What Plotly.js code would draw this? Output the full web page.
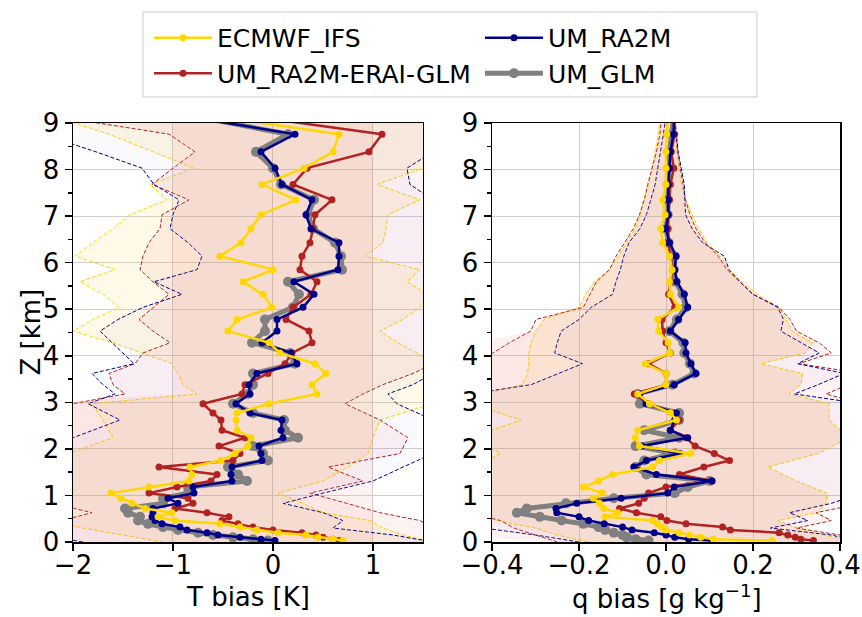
<!DOCTYPE html>
<html><head><meta charset="utf-8">
<script src="https://cdn.plot.ly/plotly-3.0.1.min.js"></script>
<style>html,body{margin:0;padding:0;background:#fff}#chart{width:862px;height:617px}</style>
</head><body><div id="chart"></div>
<script>
// Model levels (km)
const Z = [0.03,0.06,0.10,0.15,0.20,0.26,0.32,0.39,0.46,0.54,0.63,0.72,0.83,0.94,1.05,1.18,1.31,1.45,1.61,1.75,1.90,2.06,2.24,2.40,2.62,2.77,2.97,3.18,3.38,3.62,3.83,4.06,4.28,4.53,4.78,5.04,5.32,5.59,5.85,6.14,6.43,6.73,7.03,7.35,7.68,8.03,8.38,8.76,9.15];

// Temperature bias (K)
const T_ECMWF = [0.70,0.60,0.45,0.33,0.05,-0.16,-0.33,-0.53,-0.98,-1.15,-1.01,-1.28,-1.41,-1.52,-1.62,-1.24,-0.84,-0.81,-0.83,-0.52,-0.38,-0.25,-0.22,-0.36,-0.37,-0.36,-0.04,0.44,0.39,0.53,0.42,0.07,-0.04,-0.45,-0.36,-0.01,-0.10,-0.30,0.00,-0.53,-0.32,-0.22,-0.12,0.23,-0.11,0.31,0.60,0.66,-0.59];
const T_ERAI = [0.66,0.60,0.50,0.43,0.29,0.00,-0.20,-0.35,-0.51,-0.44,-0.66,-0.98,-0.80,-0.85,-1.24,-0.96,-0.62,-0.56,-1.14,-0.40,-0.33,-0.54,-0.28,-0.51,-0.52,-0.60,-0.70,-0.31,-0.28,-0.05,0.12,0.19,0.39,0.36,0.13,0.20,0.38,0.44,0.27,0.29,0.37,0.40,0.42,0.59,0.20,0.34,0.96,1.09,-0.24];
const T_RA2M = [0.02,-0.12,-0.33,-0.55,-0.66,-0.86,-0.93,-1.11,-1.18,-1.21,-1.20,-1.20,-0.95,-1.05,-0.79,-0.80,-0.41,-0.42,-0.41,-0.11,-0.12,-0.14,0.10,0.08,0.09,-0.23,-0.37,-0.23,-0.24,-0.16,0.24,0.18,-0.11,0.04,0.04,0.30,0.41,0.21,0.65,0.66,0.66,0.38,0.33,0.39,0.09,0.02,-0.12,0.22,-0.88];
const T_GLM = [-0.05,-0.2,-0.4,-0.6,-0.75,-0.95,-1.1,-1.25,-1.35,-1.33,-1.45,-1.48,-1.1,-1.1,-0.85,-0.85,-0.26,-0.35,-0.45,-0.05,-0.1,-0.2,0.25,0.12,0.11,-0.2,-0.4,-0.25,-0.2,-0.2,0.22,0.17,-0.21,-0.08,-0.08,0.2,0.26,0.15,0.69,0.68,0.62,0.4,0.35,0.41,0.08,0.0,-0.17,0.15,-0.8];

// Specific humidity bias (g/kg)
const Q_ECMWF = [0.244,0.109,0.08,0.054,0.03,0.0,-0.01,-0.02,-0.031,-0.14,-0.111,-0.143,-0.153,-0.167,-0.146,-0.19,-0.155,-0.123,-0.031,-0.015,0.057,-0.061,-0.071,-0.065,0.024,0.01,-0.038,-0.065,0.0,0.0,-0.048,0.009,0.005,-0.017,-0.019,0.029,0.01,0.008,0.014,0.008,-0.008,-0.012,-0.002,-0.008,0.0,0.0,0.0,0.002,0.005];
const Q_ERAI = [0.339,0.31,0.297,0.28,0.26,0.148,0.13,0.046,0.002,-0.012,-0.068,-0.107,-0.063,-0.05,-0.04,0.0,0.105,0.031,0.087,0.146,0.111,0.067,0.046,0.01,0.03,0.02,-0.04,-0.073,0.0,0.0,-0.04,0.01,0.0,-0.008,-0.009,0.02,0.006,0.01,0.015,0.01,0.005,0.005,0.005,0.008,0.01,0.018,0.012,0.02,0.015];
const Q_RA2M = [0.107,0.052,0.02,0.0,-0.027,-0.078,-0.10,-0.142,-0.178,-0.2,-0.251,-0.253,-0.205,-0.103,0.004,0.019,0.106,-0.022,-0.074,-0.045,0.032,-0.056,0.05,0.01,0.02,0.024,-0.046,-0.061,0.019,0.069,0.057,0.046,0.044,0.01,0.029,0.05,0.042,0.025,0.02,0.023,0.008,0.0,0.005,0.005,0.005,0.008,0.01,0.017,0.02];
const Q_GLM = [-0.04,-0.07,-0.09,-0.1,-0.12,-0.14,-0.155,-0.19,-0.24,-0.29,-0.343,-0.32,-0.23,-0.12,0.02,0.05,0.1,-0.045,-0.07,-0.05,0.02,-0.07,0.03,-0.05,0.03,0.03,-0.06,-0.065,0.015,0.065,0.055,0.042,0.04,0.008,0.025,0.045,0.038,0.022,0.018,0.02,0.006,0.0,0.004,0.004,0.004,0.006,0.008,0.014,0.018];

// Envelope levels (km)
const ZE = [0,0.15,0.3,0.46,0.63,0.83,1.05,1.31,1.61,1.90,2.24,2.62,2.97,3.18,3.38,3.62,3.83,4.06,4.28,4.53,4.78,5.04,5.32,5.59,5.85,6.14,6.43,6.73,7.03,7.35,7.68,8.03,8.38,8.76,9.15];

// T envelopes
const TE_ECMWF_LO = [-1.1,-1.5,-1.9,-2.2,-2.4,-2.4,-2.4,-2.4,-2.3,-2.05,-1.6,-1.7,-1.81,-0.76,-0.9,-0.95,-1.01,-1.31,-1.6,-2.0,-1.8,-1.54,-1.7,-1.93,-1.58,-1.98,-1.8,-1.6,-1.43,-1.06,-1.23,-0.79,-1.2,-1.64,-2.2];
const TE_ECMWF_HI = [1.6,1.3,1.1,0.97,0.5,0.3,0.05,0.5,0.75,0.95,1.0,1.07,1.6,1.6,1.6,1.6,1.6,1.44,1.25,1.07,1.3,1.47,1.55,1.34,1.47,0.92,1.1,1.13,1.15,1.47,1.04,1.5,1.6,1.6,1.6];
const TE_ERAI_LO = [-2.5,-2.5,-2.4,-2.1,-1.81,-2.2,-2.4,-2.4,-2.4,-2.4,-2.2,-2.2,-2.0,-1.48,-1.6,-1.64,-1.38,-1.3,-1.03,-1.2,-1.34,-1.2,-1.04,-1.2,-1.33,-1.3,-1.24,-1.13,-1.11,-0.84,-1.21,-1.0,-0.78,-1.04,-2.2];
const TE_ERAI_HI = [1.6,1.6,1.6,1.47,1.07,0.74,0.37,0.9,0.55,1.27,1.35,1.07,0.72,0.9,1.1,1.4,1.6,1.6,1.6,1.6,1.6,1.6,1.6,1.6,1.6,1.6,1.6,1.6,1.6,1.6,1.6,1.6,1.6,1.6,1.6];
const TE_RA2M_LO = [-1.9,-2.3,-2.4,-2.4,-2.4,-2.4,-2.4,-2.4,-2.4,-2.4,-2.0,-1.53,-1.85,-1.58,-1.7,-1.81,-1.39,-1.5,-1.6,-1.73,-1.55,-1.3,-0.91,-1.19,-0.76,-0.71,-0.85,-1.03,-1.0,-0.94,-1.19,-1.31,-1.77,-2.3,-2.4];
const TE_RA2M_HI = [1.6,1.2,0.6,0.7,0.5,0.1,0.5,1.0,1.3,1.6,1.6,1.6,1.24,1.15,1.4,1.6,1.6,1.6,1.6,1.6,1.6,1.6,1.6,1.6,1.6,1.6,1.6,1.6,1.6,1.6,1.37,1.34,1.6,1.6,1.6];
const TE_GLM_LO = [-2.5,-2.5,-2.5,-2.5,-2.5,-2.5,-2.5,-2.5,-2.5,-2.5,-2.5,-2.5,-2.5,-1.0,-1.0,-1.0,-1.0,-1.0,-1.0,-1.0,-1.0,-1.0,-1.0,-1.0,-1.0,-1.0,-1.0,-1.0,-1.0,-1.0,-1.0,-1.0,-1.0,-1.0,-1.0];
const TE_GLM_HI = [1.0,1.0,1.0,1.0,1.0,1.0,1.0,1.0,1.0,1.0,1.0,1.0,1.0,1.0,1.0,1.0,1.0,1.0,1.0,1.0,1.0,1.0,1.0,1.0,1.0,1.0,1.0,1.0,1.0,1.0,1.0,1.0,1.0,1.0,1.0];

// q envelopes
const QE_ECMWF_LO = [-0.18,-0.25,-0.3,-0.39,-0.45,-0.5,-0.5,-0.5,-0.45,-0.38,-0.45,-0.333,-0.45,-0.42,-0.33,-0.318,-0.316,-0.315,-0.31,-0.3,-0.28,-0.2,-0.185,-0.165,-0.13,-0.11,-0.09,-0.07,-0.06,-0.05,-0.04,-0.032,-0.025,-0.018,-0.012];
const QE_ECMWF_HI = [0.43,0.37,0.3,0.257,0.35,0.368,0.37,0.3,0.234,0.35,0.42,0.375,0.375,0.283,0.31,0.314,0.218,0.32,0.337,0.29,0.276,0.26,0.21,0.175,0.145,0.125,0.095,0.075,0.06,0.045,0.035,0.03,0.025,0.02,0.016];
const QE_ERAI_LO = [-0.25,-0.3,-0.35,-0.38,-0.45,-0.45,-0.45,-0.45,-0.45,-0.45,-0.45,-0.45,-0.45,-0.45,-0.45,-0.45,-0.45,-0.398,-0.36,-0.311,-0.299,-0.19,-0.175,-0.16,-0.13,-0.115,-0.095,-0.075,-0.061,-0.05,-0.042,-0.032,-0.022,-0.014,-0.01];
const QE_ERAI_HI = [0.45,0.4,0.3,0.38,0.345,0.45,0.45,0.45,0.45,0.45,0.45,0.45,0.45,0.368,0.42,0.45,0.306,0.38,0.352,0.30,0.285,0.26,0.2,0.17,0.14,0.12,0.09,0.069,0.055,0.045,0.04,0.033,0.027,0.022,0.018];
const QE_RA2M_LO = [-0.2,-0.3,-0.42,-0.45,-0.45,-0.45,-0.45,-0.45,-0.45,-0.45,-0.45,-0.45,-0.45,-0.45,-0.31,-0.249,-0.192,-0.256,-0.25,-0.241,-0.2,-0.172,-0.123,-0.115,-0.105,-0.097,-0.085,-0.06,-0.045,-0.035,-0.025,-0.019,-0.012,-0.006,0.0];
const QE_RA2M_HI = [0.45,0.38,0.24,0.326,0.284,0.38,0.45,0.45,0.45,0.45,0.45,0.45,0.45,0.295,0.35,0.41,0.303,0.352,0.31,0.264,0.27,0.257,0.2,0.17,0.145,0.134,0.084,0.06,0.045,0.043,0.042,0.035,0.028,0.024,0.02];
const QE_GLM_LO = [-0.3,-0.45,-0.45,-0.45,-0.45,-0.45,-0.45,-0.45,-0.45,-0.45,-0.45,-0.45,-0.45,-0.45,-0.45,-0.45,-0.45,-0.45,-0.45,-0.3,-0.28,-0.2,-0.185,-0.165,-0.13,-0.11,-0.09,-0.07,-0.06,-0.05,-0.04,-0.032,-0.025,-0.018,-0.012];
const QE_GLM_HI = [0.43,0.37,0.3,0.257,0.35,0.368,0.37,0.3,0.234,0.35,0.42,0.375,0.375,0.283,0.31,0.314,0.218,0.32,0.337,0.29,0.276,0.26,0.21,0.175,0.145,0.125,0.095,0.075,0.06,0.045,0.035,0.03,0.025,0.02,0.016];

const COLORS = {ECMWF_IFS:'#FFD700','UM_RA2M-ERAI-GLM':'#B22222',UM_RA2M:'#00008B',UM_GLM:'#808080'};
const FILLS = {ECMWF_IFS:'rgba(255,205,60,0.12)','UM_RA2M-ERAI-GLM':'rgba(220,70,70,0.065)',UM_RA2M:'rgba(90,90,225,0.04)',UM_GLM:'rgba(245,135,115,0.11)'};
// legend column for each series (matplotlib ncol=2, column-first)
const LEGEND_OF = {ECMWF_IFS:'legend','UM_RA2M-ERAI-GLM':'legend',UM_RA2M:'legend2',UM_GLM:'legend2'};

function env(lo, hi, xa, ya, name, showLine) {
  return {
    x: lo.concat(hi.slice().reverse()),
    y: ZE.concat(ZE.slice().reverse()),
    xaxis: xa, yaxis: ya, type: 'scatter', mode: 'lines',
    fill: 'toself', fillcolor: FILLS[name],
    line: {color: showLine ? COLORS[name] : 'rgba(0,0,0,0)', width: showLine ? 1 : 0, dash: '4px,2px'},
    showlegend: false, hoverinfo: 'skip'
  };
}
function prof(vals, xa, ya, name, show, rank) {
  const gray = name === 'UM_GLM';
  return {
    x: vals, y: Z, xaxis: xa, yaxis: ya, type: 'scatter', mode: 'lines+markers',
    name: name, legendgroup: name, showlegend: show, legendrank: rank, legend: LEGEND_OF[name],
    line: {color: COLORS[name], width: gray ? 5 : 2.5},
    marker: {color: COLORS[name], size: gray ? 10 : 7}
  };
}

const traces = [
  env(TE_ECMWF_LO, TE_ECMWF_HI, 'x', 'y', 'ECMWF_IFS', true),
  env(TE_ERAI_LO, TE_ERAI_HI, 'x', 'y', 'UM_RA2M-ERAI-GLM', true),
  env(TE_RA2M_LO, TE_RA2M_HI, 'x', 'y', 'UM_RA2M', true),
  env(TE_GLM_LO, TE_GLM_HI, 'x', 'y', 'UM_GLM', false),
  env(QE_ECMWF_LO, QE_ECMWF_HI, 'x2', 'y2', 'ECMWF_IFS', true),
  env(QE_ERAI_LO, QE_ERAI_HI, 'x2', 'y2', 'UM_RA2M-ERAI-GLM', true),
  env(QE_RA2M_LO, QE_RA2M_HI, 'x2', 'y2', 'UM_RA2M', true),
  env(QE_GLM_LO, QE_GLM_HI, 'x2', 'y2', 'UM_GLM', false),
  prof(T_GLM, 'x', 'y', 'UM_GLM', true, 2),
  prof(T_ERAI, 'x', 'y', 'UM_RA2M-ERAI-GLM', true, 2),
  prof(T_RA2M, 'x', 'y', 'UM_RA2M', true, 1),
  prof(T_ECMWF, 'x', 'y', 'ECMWF_IFS', true, 1),
  prof(Q_GLM, 'x2', 'y2', 'UM_GLM', false, 2),
  prof(Q_ERAI, 'x2', 'y2', 'UM_RA2M-ERAI-GLM', false, 2),
  prof(Q_RA2M, 'x2', 'y2', 'UM_RA2M', false, 1),
  prof(Q_ECMWF, 'x2', 'y2', 'ECMWF_IFS', false, 1)
];

const axBase = {
  showline: true, linecolor: '#000', linewidth: 1.5, mirror: true,
  ticks: 'outside', ticklen: 7, tickwidth: 1.5, tickcolor: '#000',
  showgrid: true, gridcolor: '#cfcfcf', gridwidth: 1, zeroline: false,
  tickfont: {size: 26}
};
const legBase = {orientation: 'v', yanchor: 'top', y: 1.2578, xanchor: 'left',
  traceorder: 'normal', itemwidth: 58, borderwidth: 0, bgcolor: 'rgba(0,0,0,0)', font: {size: 25}};
const titleFont = {size: 26, color: '#000'};
const layout = {
  width: 862, height: 617,
  margin: {l: 73, r: 22, t: 123, b: 75, autoexpand: false},
  paper_bgcolor: '#fff', plot_bgcolor: '#fff',
  font: {family: 'DejaVu Sans, sans-serif', size: 26, color: '#000'},
  xaxis: Object.assign({}, axBase, {domain: [0, 0.4563], range: [-2, 1.5], tick0: 0, dtick: 1, anchor: 'y', ticklabelstandoff: -8}),
  xaxis2: Object.assign({}, axBase, {domain: [0.5463, 1], range: [-0.4, 0.4], tick0: 0, dtick: 0.2, tickformat: '.1f', anchor: 'y2', ticklabelstandoff: -8}),
  yaxis: Object.assign({}, axBase, {range: [0, 9], dtick: 1, anchor: 'x',
    minor: {dtick: 0.5, ticks: 'outside', ticklen: 4, tickcolor: '#000', showgrid: false}}),
  yaxis2: Object.assign({}, axBase, {range: [0, 9], dtick: 1, anchor: 'x2',
    minor: {dtick: 0.5, ticks: 'outside', ticklen: 4, tickcolor: '#000', showgrid: false}}),
  legend: Object.assign({}, legBase, {x: 0.0991}),
  legend2: Object.assign({}, legBase, {x: 0.5306}),
  annotations: [
    {text: 'T bias [K]', xref: 'paper', yref: 'paper', x: 0.2282, y: -0.1313, xanchor: 'center', yanchor: 'middle', showarrow: false, font: titleFont},
    {text: 'q bias [g kg<sup>−1</sup>]', xref: 'paper', yref: 'paper', x: 0.7744, y: -0.1313, xanchor: 'center', yanchor: 'middle', showarrow: false, font: titleFont},
    {text: 'Z [km]', xref: 'paper', yref: 'paper', x: -0.056, y: 0.5, xanchor: 'center', yanchor: 'middle', textangle: -90, showarrow: false, font: titleFont}
  ],
  shapes: [{type: 'rect', xref: 'paper', yref: 'paper', x0: 0.0913, x1: 0.8918, y0: 1.0621, y1: 1.2649,
    line: {color: '#cccccc', width: 1}, fillcolor: 'rgba(255,255,255,0)', layer: 'above'}],
  showlegend: true
};
Plotly.newPlot('chart', traces, layout, {staticPlot: true});
</script>
</body></html>
